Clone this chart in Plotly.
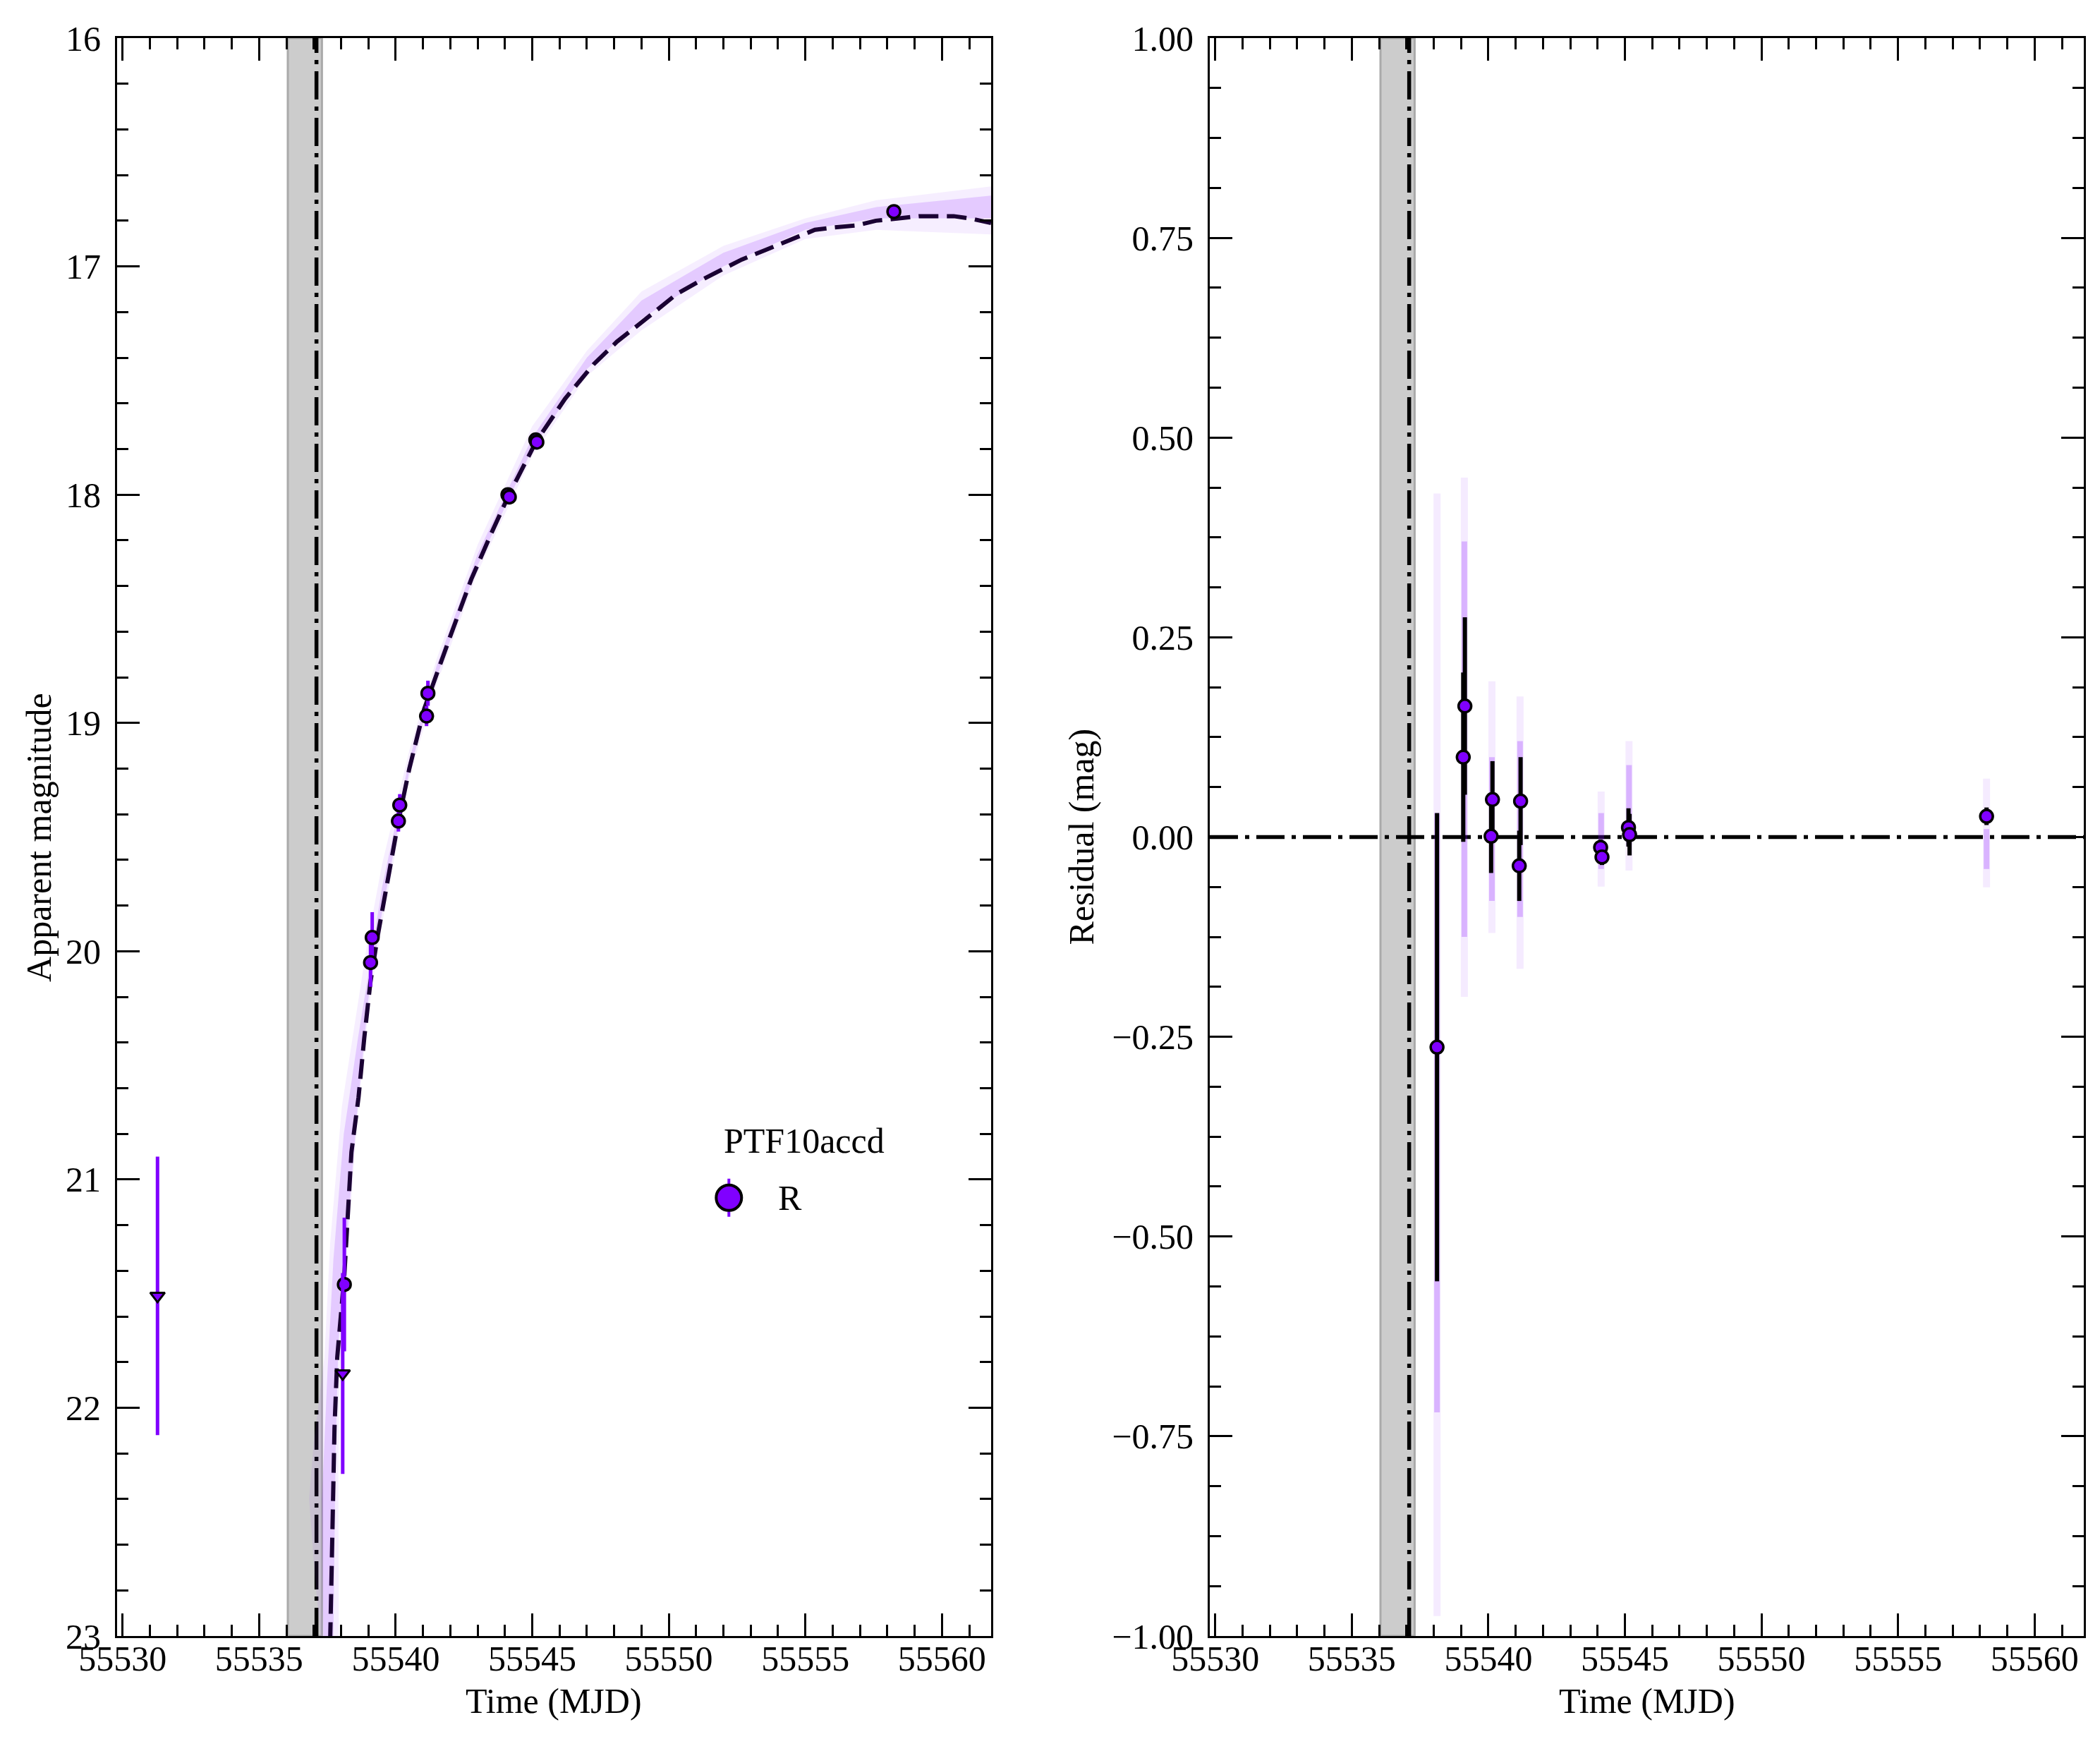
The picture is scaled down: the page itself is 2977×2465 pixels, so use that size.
import plotly.graph_objects as go

# ---------------- data ----------------
# photometry (R band, PTF10accd)
obs_t = [55538.12, 55539.08, 55539.14, 55540.10, 55540.15, 55541.13, 55541.18,
         55544.11, 55544.16, 55545.13, 55545.17, 55558.24]
obs_mag = [21.46, 20.05, 19.94, 19.43, 19.36, 18.97, 18.87,
           18.00, 18.01, 17.76, 17.77, 16.76]
obs_err = [0.293, 0.106, 0.111, 0.046, 0.048, 0.044, 0.055,
           0.010, 0.010, 0.024, 0.026, 0.011]
obs_resid = [-0.263, 0.100, 0.164, 0.001, 0.047, -0.036, 0.045,
             -0.013, -0.025, 0.012, 0.003, 0.026]

# upper limits
lim_t = [55531.28, 55538.06]
lim_mag = [21.51, 21.85]
lim_err = [0.61, 0.44]

# best-fit model (dashed)
model_t = [55537.58, 55537.60, 55537.68, 55537.76, 55537.86, 55538.12, 55538.38,
           55538.64, 55538.85, 55539.07, 55539.33, 55539.69, 55540.10, 55540.50,
           55541.04, 55542.00, 55542.77, 55543.50, 55544.15, 55545.13, 55546.20,
           55547.24, 55548.10, 55549.06, 55549.46, 55550.30, 55551.19, 55551.99,
           55552.67, 55553.50, 55554.31, 55555.35, 55556.00, 55556.90, 55557.58,
           55558.27, 55559.20, 55560.43, 55561.03, 55561.80]
model_mag = [23.15, 23.01, 22.60, 22.09, 21.78, 21.42, 20.88,
             20.64, 20.38, 20.14, 19.94, 19.70, 19.43, 19.20,
             18.94, 18.62, 18.37, 18.17, 18.00, 17.77, 17.58,
             17.43, 17.33, 17.24, 17.20, 17.12, 17.06, 17.01,
             16.97, 16.93, 16.89, 16.84, 16.83, 16.82, 16.80,
             16.79, 16.78, 16.78, 16.79, 16.81]

# spread of posterior model samples (outer / inner envelopes)
outer_bright_t = [55537.25, 55537.05, 55536.83, 55537.00, 55537.39, 55537.60, 55538.03,
                  55538.55, 55538.94, 55539.50, 55540.50, 55541.50, 55543.00, 55545.00,
                  55547.00, 55549.00, 55552.00, 55555.00, 55557.60, 55561.80]
outer_bright_m = [23.00, 22.75, 22.40, 22.15, 21.78, 21.28, 20.68,
                  20.28, 19.98, 19.62, 19.12, 18.72, 18.22, 17.70,
                  17.37, 17.11, 16.91, 16.79, 16.71, 16.65]
outer_faint_t = [55561.80, 55557.60, 55555.00, 55552.00, 55549.00, 55547.00, 55545.00,
                 55543.00, 55541.50, 55540.50, 55539.50, 55539.00, 55538.60, 55538.20,
                 55537.95, 55537.90, 55537.92]
outer_faint_m = [16.86, 16.84, 16.88, 17.04, 17.28, 17.48, 17.83,
                 18.34, 18.83, 19.24, 19.88, 20.26, 20.73, 21.36,
                 21.85, 22.30, 23.00]
inner_bright_t = [55537.35, 55537.30, 55537.50, 55537.72, 55538.10, 55538.62, 55539.00,
                  55539.50, 55540.50, 55541.50, 55543.00, 55545.00, 55547.00, 55549.00,
                  55552.00, 55555.00, 55557.60, 55561.80]
inner_bright_m = [23.00, 22.40, 21.85, 21.35, 20.80, 20.38, 20.10,
                  19.72, 19.16, 18.75, 18.26, 17.75, 17.40, 17.15,
                  16.94, 16.81, 16.74, 16.69]
inner_faint_t = [55561.80, 55557.60, 55555.00, 55552.00, 55549.00, 55547.00, 55545.00,
                 55543.00, 55541.50, 55540.50, 55539.50, 55539.00, 55538.60, 55538.20,
                 55537.90, 55537.80, 55537.72]
inner_faint_m = [16.79, 16.79, 16.84, 17.00, 17.23, 17.45, 17.80,
                 18.31, 18.80, 19.21, 19.83, 20.21, 20.69, 21.27,
                 21.72, 22.20, 23.00]

# residual spread of model samples
spread_t = [55538.12, 55539.12, 55540.13, 55541.16, 55544.13, 55545.15, 55558.24]
spread_lo = [-0.975, -0.20, -0.12, -0.165, -0.062, -0.042, -0.063]
spread_hi = [0.43, 0.45, 0.195, 0.176, 0.057, 0.12, 0.073]
core_lo = [-0.72, -0.125, -0.08, -0.10, -0.04, -0.01, -0.04]
core_hi = [0.03, 0.37, 0.10, 0.12, 0.03, 0.09, 0.01]

# explosion time estimate
t_exp = 55537.1
t_exp_lo = 55536.05
t_exp_hi = 55537.30

x_range = [55529.8, 55561.8]
mag_range = [23, 16]
res_range = [-1.0, 1.0]
res_ticks = [-1.0, -0.75, -0.5, -0.25, 0.0, 0.25, 0.5, 0.75, 1.0]

band_name = "R"
object_name = "PTF10accd"

# ---------------- style ----------------
PURPLE = "#8000ff"
FONT = "Liberation Serif"
FS = 50
DASHDOT = "40px,10px,6px,10px"

fig = go.Figure()

# posterior model spread (left)
fig.add_trace(go.Scatter(
    x=outer_bright_t + outer_faint_t, y=outer_bright_m + outer_faint_m,
    fill="toself", fillcolor="rgba(150,70,255,0.09)", line=dict(width=0),
    mode="lines", hoverinfo="skip", showlegend=False, xaxis="x", yaxis="y"))
fig.add_trace(go.Scatter(
    x=inner_bright_t + inner_faint_t, y=inner_bright_m + inner_faint_m,
    fill="toself", fillcolor="rgba(128,0,255,0.15)", line=dict(width=0),
    mode="lines", hoverinfo="skip", showlegend=False, xaxis="x", yaxis="y"))

# best-fit model
fig.add_trace(go.Scatter(
    x=model_t, y=model_mag, mode="lines",
    line=dict(color="#1a0033", width=6, dash="28px,12px"),
    showlegend=False, xaxis="x", yaxis="y"))

# detections
fig.add_trace(go.Scatter(
    x=obs_t, y=obs_mag, mode="markers",
    error_y=dict(type="data", array=obs_err, color=PURPLE, thickness=5, width=0),
    marker=dict(symbol="circle", size=18, color=PURPLE, line=dict(color="black", width=3.5)),
    showlegend=False, xaxis="x", yaxis="y"))

# upper limits
fig.add_trace(go.Scatter(
    x=lim_t, y=lim_mag, mode="markers",
    error_y=dict(type="data", array=lim_err, color=PURPLE, thickness=5, width=0),
    marker=dict(symbol="triangle-down", size=18, color=PURPLE, line=dict(color="black", width=3)),
    showlegend=False, xaxis="x", yaxis="y"))

# residual spread (right)
sx, sy, cx, cy = [], [], [], []
for t, lo, hi, clo, chi in zip(spread_t, spread_lo, spread_hi, core_lo, core_hi):
    sx += [t, t, None]
    sy += [lo, hi, None]
    cx += [t, t, None]
    cy += [clo, chi, None]
fig.add_trace(go.Scatter(
    x=sx, y=sy, mode="lines", line=dict(color="rgba(128,0,255,0.08)", width=10),
    showlegend=False, hoverinfo="skip", xaxis="x2", yaxis="y2"))
fig.add_trace(go.Scatter(
    x=cx, y=cy, mode="lines", line=dict(color="rgba(128,0,255,0.24)", width=8),
    showlegend=False, hoverinfo="skip", xaxis="x2", yaxis="y2"))

# residuals
fig.add_trace(go.Scatter(
    x=obs_t, y=obs_resid, mode="markers",
    error_y=dict(type="data", array=obs_err, color="black", thickness=6, width=0),
    marker=dict(symbol="circle", size=18, color=PURPLE, line=dict(color="black", width=3.5)),
    showlegend=False, xaxis="x2", yaxis="y2"))

shapes = []
for xr in ["x", "x2"]:
    yr = "y domain" if xr == "x" else "y2 domain"
    shapes.append(dict(type="rect", xref=xr, yref=yr,
                       x0=t_exp_lo, x1=t_exp_hi, y0=0, y1=1,
                       fillcolor="#cccccc", line=dict(color="#aaaaaa", width=3), layer="below"))
    shapes.append(dict(type="line", xref=xr, yref=yr,
                       x0=t_exp, x1=t_exp, y0=0, y1=1,
                       line=dict(color="black", width=5.5, dash=DASHDOT), layer="below"))
shapes.append(dict(type="line", xref="x2 domain", yref="y2", x0=0, x1=1, y0=0, y1=0,
                   line=dict(color="black", width=5.5, dash=DASHDOT), layer="below"))

# legend (manual)
leg_x, leg_y = 55552.2, 21.08
shapes.append(dict(type="line", xref="x", yref="y", xsizemode="pixel", ysizemode="pixel",
                   xanchor=leg_x, yanchor=leg_y, x0=0, x1=0, y0=-27, y1=27,
                   line=dict(color=PURPLE, width=4), layer="above"))
shapes.append(dict(type="circle", xref="x", yref="y", xsizemode="pixel", ysizemode="pixel",
                   xanchor=leg_x, yanchor=leg_y, x0=-18, x1=18, y0=-18, y1=18,
                   fillcolor=PURPLE, line=dict(color="black", width=4), layer="above"))

annotations = [
    dict(text=object_name, x=55554.95, y=20.83, xref="x", yref="y", showarrow=False,
         xanchor="center", yanchor="middle", font=dict(family=FONT, size=FS, color="black")),
    dict(text=band_name, x=55553.95, y=21.08, xref="x", yref="y", showarrow=False,
         xanchor="left", yanchor="middle", font=dict(family=FONT, size=FS, color="black")),
    dict(text="Apparent magnitude", x=-0.040, y=0.5, xref="paper", yref="paper",
         textangle=-90, showarrow=False, xanchor="center", yanchor="middle",
         font=dict(family=FONT, size=FS, color="black")),
    dict(text="Residual (mag)", x=0.4900, y=0.5, xref="paper", yref="paper",
         textangle=-90, showarrow=False, xanchor="center", yanchor="middle",
         font=dict(family=FONT, size=FS, color="black")),
    dict(text="Time (MJD)", x=0.2222, y=-0.0405, xref="paper", yref="paper",
         showarrow=False, xanchor="center", yanchor="middle",
         font=dict(family=FONT, size=FS, color="black")),
    dict(text="Time (MJD)", x=0.7778, y=-0.0405, xref="paper", yref="paper",
         showarrow=False, xanchor="center", yanchor="middle",
         font=dict(family=FONT, size=FS, color="black")),
]

common = dict(showline=True, linecolor="black", linewidth=3, mirror="ticks",
              ticks="inside", ticklen=32, tickwidth=3, tickcolor="black",
              showgrid=False, zeroline=False,
              tickfont=dict(family=FONT, size=FS, color="black"))
minor_common = dict(ticks="inside", ticklen=16, tickwidth=2.5, tickcolor="black", showgrid=False)

fig.update_layout(
    width=2977, height=2465,
    margin=dict(l=158, r=31, t=46, b=154),
    paper_bgcolor="white", plot_bgcolor="white",
    font=dict(family=FONT, size=FS, color="black"),
    showlegend=False,
    shapes=shapes, annotations=annotations,
    xaxis=dict(domain=[0, 0.4444], range=x_range, tick0=55530, dtick=5, tickformat="d",
               minor=dict(dtick=1, **minor_common), anchor="y", ticklabelstandoff=-14, **common),
    yaxis=dict(range=mag_range, tick0=16, dtick=1, minor=dict(dtick=0.2, **minor_common),
               anchor="x", ticklabelstandoff=10, **common),
    xaxis2=dict(domain=[0.5556, 1], range=x_range, tick0=55530, dtick=5, tickformat="d",
                minor=dict(dtick=1, **minor_common), anchor="y2", ticklabelstandoff=-14, **common),
    yaxis2=dict(range=res_range, tickvals=res_ticks, tickformat=".2f",
                minor=dict(dtick=0.0625, tick0=-1, **minor_common),
                anchor="x2", ticklabelstandoff=10, **common),
)

fig.write_html("out.html")
